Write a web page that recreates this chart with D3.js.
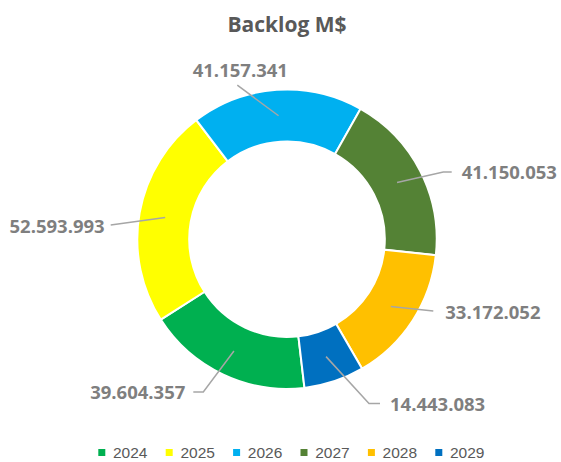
<!DOCTYPE html>
<html>
<head>
<meta charset="utf-8">
<script src="https://cdn.jsdelivr.net/npm/d3@7"></script>
<style>
  html, body { margin: 0; padding: 0; background: #fff; }
  svg { display: block; }
</style>
</head>
<body>
<svg id="chart" width="561" height="462"></svg>
<script>
// ---- data ----
const title = "Backlog M$";
const categories = ["2024", "2025", "2026", "2027", "2028", "2029"];
const values = [39604357, 52593993, 41157341, 41150053, 33172052, 14443083];
const valueLabels = ["39.604.357", "52.593.993", "41.157.341", "41.150.053", "33.172.052", "14.443.083"];
const colors = ["#00B050", "#FFFF00", "#00B0F0", "#548235", "#FFC000", "#0070C0"];

// ---- layout (label leader-line end points relative to centre, optional elbow) ----
const labelLayout = [
  { elbow: [-83.7, 152.7], end: [-93.7, 152.7], anchor: "end",    tx: -8, ty: 0 },
  { elbow: null,           end: [-176.3, -14.3], anchor: "end",   tx: -6, ty: 1.5 },
  { elbow: null,           end: [-49.7, -154],  anchor: "middle", tx: 3,  ty: -15 },
  { elbow: [156.3, -67.3], end: [164.7, -67.3], anchor: "start",  tx: 10, ty: 0.5 },
  { elbow: null,           end: [146.3, 71.7],  anchor: "start",  tx: 12, ty: 1 },
  { elbow: [82, 164.3],    end: [93, 164.3],    anchor: "start",  tx: 10, ty: 0.5 }
];

const W = 561, H = 462;
const cx = 287, cy = 239.2, outerR = 149.7, innerR = 97.8;
const startDeg = 173.3;

const svg = d3.select("#chart");

svg.append("text")
  .attr("x", 287).attr("y", 32)
  .attr("text-anchor", "middle")
  .attr("font-family", "'Open Sans', 'Liberation Sans', sans-serif")
  .attr("font-weight", "bold")
  .attr("font-size", 21)
  .attr("fill", "#595959")
  .text(title);

const data = categories.map((c, i) => ({ cat: c, value: values[i], label: valueLabels[i], color: colors[i], lay: labelLayout[i] }));

const pie = d3.pie().sort(null).value(d => d.value)
  .startAngle(startDeg * Math.PI / 180)
  .endAngle(startDeg * Math.PI / 180 + 2 * Math.PI);
const arcs = pie(data);
const arc = d3.arc().innerRadius(innerR).outerRadius(outerR);

const g = svg.append("g").attr("transform", `translate(${cx},${cy})`);

g.selectAll("path.slice").data(arcs).join("path")
  .attr("class", "slice")
  .attr("d", arc)
  .attr("fill", d => d.data.color)
  .attr("stroke", "#fff")
  .attr("stroke-width", 2);

// leader lines
const line = d3.line();
g.selectAll("path.leader").data(arcs).join("path")
  .attr("class", "leader")
  .attr("d", d => {
    const c = arc.centroid(d);
    const pts = [c];
    if (d.data.lay.elbow) pts.push(d.data.lay.elbow);
    pts.push(d.data.lay.end);
    return line(pts);
  })
  .attr("fill", "none")
  .attr("stroke", "#A6A6A6")
  .attr("stroke-width", 1.5);

g.selectAll("text.vlabel").data(arcs).join("text")
  .attr("class", "vlabel")
  .attr("x", d => d.data.lay.end[0] + d.data.lay.tx)
  .attr("y", d => d.data.lay.end[1] + d.data.lay.ty)
  .attr("dy", "0.36em")
  .attr("text-anchor", d => d.data.lay.anchor)
  .attr("font-family", "'Open Sans', 'Liberation Sans', sans-serif")
  .attr("font-weight", "bold")
  .attr("font-size", 18.5)
  .attr("fill", "#7F7F7F")
  .text(d => d.data.label);

// legend
const legendX0 = 98.3, legendStep = 67.4, legendY = 452.5;
const leg = svg.append("g");
const items = leg.selectAll("g").data(data).join("g")
  .attr("transform", (d, i) => `translate(${legendX0 + i * legendStep},${legendY})`);
items.append("rect")
  .attr("x", 0).attr("y", -3.5).attr("width", 7).attr("height", 7)
  .attr("fill", d => d.color);
items.append("text")
  .attr("x", 14.7).attr("y", 0).attr("dy", "0.36em")
  .attr("font-family", "'Liberation Sans', 'Open Sans', sans-serif")
  .attr("font-size", 15.5)
  .attr("fill", "#595959")
  .text(d => d.cat);
</script>
</body>
</html>
